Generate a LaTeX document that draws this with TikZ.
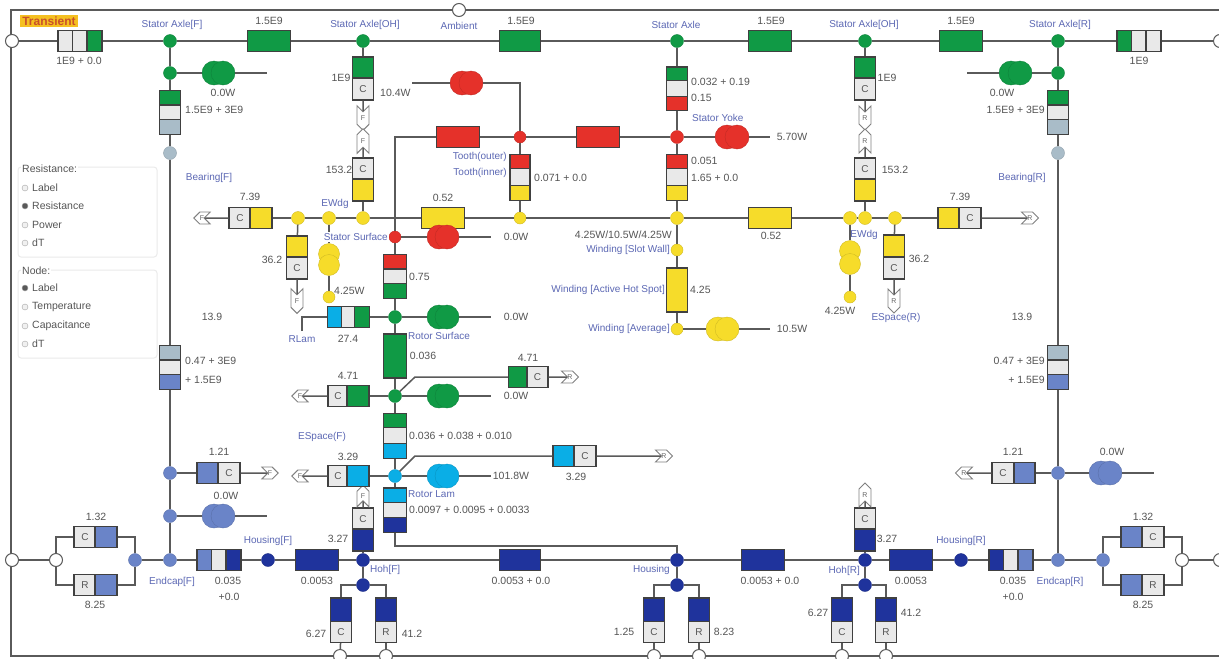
\documentclass[tikz,border=0pt]{standalone}
\usepackage{fontspec}
\setmainfont{Liberation Sans}
\usetikzlibrary{shapes.symbols}
\definecolor{wirecol}{HTML}{5A5A5A}
\definecolor{gnd}{HTML}{109A45}
\definecolor{rdd}{HTML}{E5312A}
\definecolor{ylw}{HTML}{F6DC2A}
\definecolor{cyn}{HTML}{0AAEE6}
\definecolor{nvy}{HTML}{1F339C}
\definecolor{peri}{HTML}{6A84C8}
\definecolor{gry}{HTML}{A9BCC8}
\definecolor{pale}{HTML}{E9E9E9}
\definecolor{namecol}{HTML}{5C68B4}
\definecolor{numcol}{HTML}{555555}
\definecolor{titlebg}{HTML}{F5C020}
\definecolor{titlefg}{HTML}{C8502A}
\tikzset{
  wire/.style={draw=wirecol, line width=1.5pt},
  frameline/.style={draw=wirecol, line width=1.8pt},
  junc/.style={circle, draw=#1!85!black, fill=#1, inner sep=0pt, minimum size=13pt},
  term/.style={circle, draw=wirecol, fill=white, line width=1pt, inner sep=0pt, minimum size=13pt},
  cell/.style={rectangle, draw=black!75, line width=1.2pt, fill=#1, inner sep=0pt, font=\fontsize{10}{10}\selectfont, text=numcol},
  hc/.style={cell=#1, minimum height=21pt},
  vc/.style={cell=#1, minimum width=21pt},
  src/.style={circle, draw=#1!85!black, fill=#1, inner sep=0pt, minimum size=24pt},
  srcv/.style={circle, draw=#1!85!black, fill=#1, inner sep=0pt, minimum size=21pt},
  tag/.style={signal, draw=black!50, fill=white, line width=0.9pt, inner sep=0pt, text=black!60, font=\fontsize{7}{7}\selectfont},
  tagl/.style={tag, signal to=west, signal from=east, minimum width=16pt, minimum height=12pt},
  tagr/.style={tag, signal to=east, signal from=west, minimum width=16pt, minimum height=12pt},
  tagd/.style={tag, signal to=south, signal from=north, minimum width=12pt, minimum height=17pt},
  tagu/.style={tag, signal to=north, signal from=south, minimum width=12pt, minimum height=17pt},
  num/.style={text=numcol, inner sep=0pt, font=\fontsize{10.5}{12}\selectfont},
  nm/.style={text=namecol, inner sep=0pt, font=\fontsize{10}{12}\selectfont},
  panel/.style={draw=black!8, rounded corners=3pt, line width=1pt},
  radio/.style={circle, draw=black!35, fill=black!6, inner sep=0pt, minimum size=6pt},
  radioon/.style={circle, draw=black!35, fill=black!65, inner sep=0pt, minimum size=6pt},
}
\begin{document}
\begin{tikzpicture}[x=1pt, y=-1pt]
    \useasboundingbox (0,0) rectangle (1219,659);
    \fill[white] (0,0) rectangle (1219,659);
    \draw[frameline] (11,10) rectangle (1221,656);

    % Title
    \node[fill=titlebg, text=titlefg, inner sep=2pt, font=\bfseries\fontsize{12}{14}\selectfont] (title) at (49,21) {Transient};

    % Panels on the left
    \draw[panel] (18,167) rectangle (157,257);
    \draw[panel] (18,270) rectangle (157,358);
    \node[num, anchor=west, fill=white, inner sep=1pt] (resTitle) at (21,169) {Resistance:};
    \node[radio] (r1) at (25,188) {};
    \node[radioon] (r2) at (25,206) {};
    \node[radio] (r3) at (25,225) {};
    \node[radio] (r4) at (25,243) {};
    \node[num, anchor=west] at (32,188) {Label};
    \node[num, anchor=west] at (32,206) {Resistance};
    \node[num, anchor=west] at (32,225) {Power};
    \node[num, anchor=west] at (32,243) {dT};
    \node[num, anchor=west, fill=white, inner sep=1pt] (nodeTitle) at (21,271) {Node:};
    \node[radioon] (n1) at (25,288) {};
    \node[radio] (n2) at (25,307) {};
    \node[radio] (n3) at (25,326) {};
    \node[radio] (n4) at (25,344) {};
    \node[num, anchor=west] at (32,288) {Label};
    \node[num, anchor=west] at (32,307) {Temperature};
    \node[num, anchor=west] at (32,326) {Capacitance};
    \node[num, anchor=west] at (32,344) {dT};

    % Terminals on the frame
    \node[term] (tTL) at (12,41) {};
    \node[term] (tTR) at (1220,41) {};
    \node[term] (tBL) at (12,560) {};
    \node[term] (tBR) at (1220,560) {};
    \node[term] (tAmb) at (459,10) {};
    \node[term] (tB1) at (340,656) {};
    \node[term] (tB2) at (386,656) {};
    \node[term] (tB3) at (654,656) {};
    \node[term] (tB4) at (699,656) {};
    \node[term] (tB5) at (842,656) {};
    \node[term] (tB6) at (886,656) {};

    % Top row: stator axle
    \node[hc=pale, minimum width=15pt] (a1) at (65.5,41) {};
    \node[hc=pale, minimum width=15pt] (a2) at (80,41) {};
    \node[hc=gnd, minimum width=15pt] (a3) at (94.5,41) {};
    \node[junc=gnd] (saF) at (170,41) {};
    \node[hc=gnd, minimum width=43pt] (b1) at (269,41) {};
    \node[junc=gnd] (saOHf) at (363,41) {};
    \node[hc=gnd, minimum width=41pt] (b2) at (520,41) {};
    \node[junc=gnd] (sa) at (677,41) {};
    \node[hc=gnd, minimum width=43pt] (b3) at (770,41) {};
    \node[junc=gnd] (saOHr) at (865,41) {};
    \node[hc=gnd, minimum width=43pt] (b4) at (961,41) {};
    \node[junc=gnd] (saR) at (1058,41) {};
    \node[hc=gnd, minimum width=15pt] (c1) at (1124.5,41) {};
    \node[hc=pale, minimum width=15pt] (c2) at (1139,41) {};
    \node[hc=pale, minimum width=15pt] (c3) at (1153.5,41) {};

    % Front bearing column
    \node[junc=gnd] (jF) at (170,73) {};
    \node[src=gnd] (sF1) at (214,73) {};
    \node[src=gnd] (sF2) at (223,73) {};
    \coordinate (sFe) at (267,73);
    \node[vc=gnd, minimum height=15pt] (v1) at (170,98) {};
    \node[vc=pale, minimum height=15pt] (v2) at (170,112.5) {};
    \node[vc=gry, minimum height=15pt] (v3) at (170,127) {};
    \node[junc=gry] (brgF) at (170,153) {};
    \node[vc=gry, minimum height=15pt] (v4) at (170,353) {};
    \node[vc=pale, minimum height=15pt] (v5) at (170,367.5) {};
    \node[vc=peri, minimum height=15pt] (v6) at (170,382) {};
    \node[junc=peri] (jF2) at (170,473) {};
    \node[hc=peri, minimum width=22pt] (e1) at (208,473) {};
    \node[hc=pale, minimum width=22pt] (e2) at (229,473) {C};
    \node[tagr] (tgF1) at (270,473) {F};
    \node[junc=peri] (jF3) at (170,516) {};
    \node[src=peri] (sF3) at (214,516) {};
    \node[src=peri] (sF4) at (223,516) {};
    \coordinate (sF4e) at (267,516);

    % Front endcap
    \node[junc=peri] (ecF) at (170,560) {};
    \node[junc=peri] (ecF2) at (135,560) {};
    \node[term] (ecF3) at (56,560) {};
    \node[hc=pale, minimum width=22pt] (p1) at (85,537) {C};
    \node[hc=peri, minimum width=22pt] (p2) at (106,537) {};
    \node[hc=pale, minimum width=22pt] (p3) at (85,585) {R};
    \node[hc=peri, minimum width=22pt] (p4) at (106,585) {};
    \coordinate (p1a) at (56,537);
    \coordinate (p2a) at (135,537);
    \coordinate (p3a) at (56,585);
    \coordinate (p4a) at (135,585);
    \node[hc=peri, minimum width=15pt] (q1) at (204.5,560) {};
    \node[hc=pale, minimum width=15pt] (q2) at (219,560) {};
    \node[hc=nvy, minimum width=15pt] (q3) at (233.5,560) {};
    \node[junc=nvy] (hsF) at (268,560) {};

    % Housing row
    \node[hc=nvy, minimum width=43pt] (h1) at (317,560) {};
    \node[junc=nvy] (hohF) at (363,560) {};
    \node[hc=nvy, minimum width=41pt] (h2) at (520,560) {};
    \node[junc=nvy] (hs) at (677,560) {};
    \node[hc=nvy, minimum width=43pt] (h3) at (763,560) {};
    \node[junc=nvy] (hohR) at (865,560) {};
    \node[hc=nvy, minimum width=43pt] (h4) at (911,560) {};
    \node[junc=nvy] (hsR) at (961,560) {};
    \node[hc=nvy, minimum width=15pt] (q4) at (996.5,560) {};
    \node[hc=pale, minimum width=15pt] (q5) at (1011,560) {};
    \node[hc=peri, minimum width=15pt] (q6) at (1025.5,560) {};
    \node[junc=peri] (ecR) at (1058,560) {};
    \node[junc=peri] (ecR2) at (1103,560) {};
    \node[term] (ecR3) at (1182,560) {};
    \node[hc=peri, minimum width=22pt] (p5) at (1132,537) {};
    \node[hc=pale, minimum width=22pt] (p6) at (1153,537) {C};
    \node[hc=peri, minimum width=22pt] (p7) at (1132,585) {};
    \node[hc=pale, minimum width=22pt] (p8) at (1153,585) {R};
    \coordinate (p5a) at (1103,537);
    \coordinate (p6a) at (1182,537);
    \coordinate (p7a) at (1103,585);
    \coordinate (p8a) at (1182,585);

    % Feet of the housing row
    \node[vc=pale, minimum height=22pt] (f1) at (363,519) {C};
    \node[vc=nvy, minimum height=22pt] (f2) at (363,540) {};
    \node[tagu, minimum height=14pt] (tgF2) at (363,496) {F};
    \node[junc=nvy] (jH1) at (363,585) {};
    \coordinate (jH1l) at (341,585);
    \coordinate (jH1r) at (386,585);
    \node[vc=nvy, minimum height=24pt] (f3) at (341,610) {};
    \node[vc=pale, minimum height=21pt] (f4) at (341,632) {C};
    \node[vc=nvy, minimum height=24pt] (f5) at (386,610) {};
    \node[vc=pale, minimum height=21pt] (f6) at (386,632) {R};
    \node[junc=nvy] (jH2) at (677,585) {};
    \coordinate (jH2l) at (654,585);
    \coordinate (jH2r) at (699,585);
    \node[vc=nvy, minimum height=24pt] (f7) at (654,610) {};
    \node[vc=pale, minimum height=21pt] (f8) at (654,632) {C};
    \node[vc=nvy, minimum height=24pt] (f9) at (699,610) {};
    \node[vc=pale, minimum height=21pt] (f10) at (699,632) {R};
    \node[vc=pale, minimum height=22pt] (f11) at (865,519) {C};
    \node[vc=nvy, minimum height=22pt] (f12) at (865,540) {};
    \node[tagu] (tgR2) at (865,495) {R};
    \node[junc=nvy] (jH3) at (865,585) {};
    \coordinate (jH3l) at (842,585);
    \coordinate (jH3r) at (886,585);
    \node[vc=nvy, minimum height=24pt] (f13) at (842,610) {};
    \node[vc=pale, minimum height=21pt] (f14) at (842,632) {C};
    \node[vc=nvy, minimum height=24pt] (f15) at (886,610) {};
    \node[vc=pale, minimum height=21pt] (f16) at (886,632) {R};

    % Rear bearing column
    \node[junc=gnd] (jR) at (1058,73) {};
    \node[src=gnd] (sR1) at (1011,73) {};
    \node[src=gnd] (sR2) at (1020,73) {};
    \coordinate (sRe) at (967,73);
    \node[vc=gnd, minimum height=15pt] (w1) at (1058,98) {};
    \node[vc=pale, minimum height=15pt] (w2) at (1058,112.5) {};
    \node[vc=gry, minimum height=15pt] (w3) at (1058,127) {};
    \node[junc=gry] (brgR) at (1058,153) {};
    \node[vc=gry, minimum height=15pt] (w4) at (1058,353) {};
    \node[vc=pale, minimum height=15pt] (w5) at (1058,367.5) {};
    \node[vc=peri, minimum height=15pt] (w6) at (1058,382) {};
    \node[junc=peri] (jR2) at (1058,473) {};
    \node[hc=peri, minimum width=22pt] (e3) at (1024,473) {};
    \node[hc=pale, minimum width=22pt] (e4) at (1003,473) {C};
    \node[tagl] (tgR1) at (964,473) {R};
    \node[src=peri] (sR3) at (1101,473) {};
    \node[src=peri] (sR4) at (1110,473) {};
    \coordinate (sR4e) at (1154,473);

    % Stator overhang, front
    \node[vc=gnd, minimum height=22pt] (o1) at (363,68) {};
    \node[vc=pale, minimum height=22pt] (o2) at (363,89) {C};
    \node[tagd] (tgO1) at (363,118) {F};
    \node[tagu] (tgO2) at (363,141) {F};
    \node[vc=pale, minimum height=22pt] (o3) at (363,169) {C};
    \node[vc=ylw, minimum height=22pt] (o4) at (363,190) {};

    % Stator overhang, rear
    \node[vc=gnd, minimum height=22pt] (o5) at (865,68) {};
    \node[vc=pale, minimum height=22pt] (o6) at (865,89) {C};
    \node[tagd] (tgO3) at (865,118) {R};
    \node[tagu] (tgO4) at (865,141) {R};
    \node[vc=pale, minimum height=22pt] (o7) at (865,169) {C};
    \node[vc=ylw, minimum height=22pt] (o8) at (865,190) {};

    % Winding row
    \node[tagl] (tgW1) at (202,218) {F};
    \node[hc=pale, minimum width=22pt] (y1) at (240,218) {C};
    \node[hc=ylw, minimum width=22pt] (y2) at (261,218) {};
    \node[junc=ylw] (jY1) at (298,218) {};
    \node[junc=ylw] (ewF) at (329,218) {};
    \node[junc=ylw] (jY2) at (363,218) {};
    \node[hc=ylw, minimum width=43pt] (y3) at (443,218) {};
    \node[junc=ylw, minimum size=12pt] (jTi) at (520,218) {};
    \node[junc=ylw] (jW) at (677,218) {};
    \node[hc=ylw, minimum width=43pt] (y4) at (770,218) {};
    \node[junc=ylw] (ewR) at (850,218) {};
    \node[junc=ylw] (jY3) at (865,218) {};
    \node[junc=ylw] (jY4) at (895,218) {};
    \node[hc=ylw, minimum width=22pt] (y5) at (949,218) {};
    \node[hc=pale, minimum width=22pt] (y6) at (970,218) {C};
    \node[tagr] (tgW2) at (1030,218) {R};

    % Hanging from the winding row
    \node[vc=ylw, minimum height=22pt] (d1) at (297,247) {};
    \node[vc=pale, minimum height=22pt] (d2) at (297,268) {C};
    \node[tagd] (tgD1) at (297,301) {F};
    \node[srcv=ylw] (sY1) at (329,254) {};
    \node[srcv=ylw] (sY2) at (329,265) {};
    \node[junc=ylw, minimum size=12pt] (pY1) at (329,297) {};
    \node[srcv=ylw] (sY3) at (850,251) {};
    \node[srcv=ylw] (sY4) at (850,264) {};
    \node[junc=ylw, minimum size=12pt] (pY2) at (850,297) {};
    \node[vc=ylw, minimum height=22pt] (d3) at (894,246) {};
    \node[vc=pale, minimum height=22pt] (d4) at (894,268) {C};
    \node[tagd] (tgD2) at (894,301) {R};

    % Stator yoke and tooth
    \node[hc=rdd, minimum width=43pt] (t1) at (458,137) {};
    \node[junc=rdd, minimum size=12pt] (jTo) at (520,137) {};
    \node[hc=rdd, minimum width=43pt] (t2) at (598,137) {};
    \node[junc=rdd] (jYk) at (677,137) {};
    \node[src=rdd] (sYk1) at (727,137) {};
    \node[src=rdd] (sYk2) at (737,137) {};
    \coordinate (sYke) at (770,137);
    \node[src=rdd] (sTo1) at (462,83) {};
    \node[src=rdd] (sTo2) at (471,83) {};
    \coordinate (sToe) at (412,83);
    \coordinate (sToc) at (520,83);
    \node[vc=gnd, minimum height=15pt] (k1) at (677,74.5) {};
    \node[vc=pale, minimum height=17pt] (k2) at (677,89) {};
    \node[vc=rdd, minimum height=14pt] (k3) at (677,103.5) {};
    \node[vc=rdd, minimum height=15pt] (k4) at (677,162) {};
    \node[vc=pale, minimum height=18pt] (k5) at (677,177.5) {};
    \node[vc=ylw, minimum height=15pt] (k6) at (677,193) {};
    \node[cell=rdd, minimum width=20pt, minimum height=15pt] (k7) at (520,162) {};
    \node[cell=pale, minimum width=20pt, minimum height=18pt] (k8) at (520,177.5) {};
    \node[cell=ylw, minimum width=20pt, minimum height=15pt] (k9) at (520,193) {};

    % Winding column
    \node[junc=ylw, minimum size=12pt] (jSl) at (677,250) {};
    \node[vc=ylw, minimum height=44pt] (wh) at (677,290) {};
    \node[junc=ylw, minimum size=12pt] (jAv) at (677,329) {};
    \node[src=ylw] (sAv1) at (718,329) {};
    \node[src=ylw] (sAv2) at (727,329) {};
    \coordinate (sAve) at (770,329);

    % Stator surface down to the rotor
    \node[junc=rdd, minimum size=12pt] (jSS) at (395,237) {};
    \coordinate (jSSc) at (395,137);
    \node[src=rdd] (sSS1) at (439,237) {};
    \node[src=rdd] (sSS2) at (447,237) {};
    \coordinate (sSSe) at (491,237);
    \node[cell=rdd, minimum width=23pt, minimum height=15pt] (g1) at (395,262) {};
    \node[cell=pale, minimum width=23pt, minimum height=15pt] (g2) at (395,276.5) {};
    \node[cell=gnd, minimum width=23pt, minimum height=15pt] (g3) at (395,291) {};

    % Rotor surface
    \node[junc=gnd] (jRS) at (395,317) {};
    \node[hc=cyn, minimum width=14.5pt] (g4) at (335,317) {};
    \node[hc=pale, minimum width=14.5pt] (g5) at (348.5,317) {};
    \node[hc=gnd, minimum width=14.5pt] (g6) at (362,317) {};
    \coordinate (g4a) at (302,317);
    \coordinate (g4b) at (302,331);
    \node[src=gnd] (sRS1) at (439,317) {};
    \node[src=gnd] (sRS2) at (447,317) {};
    \coordinate (sRSe) at (491,317);
    \node[cell=gnd, minimum width=23pt, minimum height=44pt] (g7) at (395,356) {};

    % Rotor
    \node[junc=gnd] (jRo) at (395,396) {};
    \node[hc=pale, minimum width=20pt] (g8) at (338,396) {C};
    \node[hc=gnd, minimum width=22pt] (g9) at (358,396) {};
    \node[tagl] (tgA1) at (300,396) {F};
    \node[src=gnd] (sRo1) at (439,396) {};
    \node[src=gnd] (sRo2) at (447,396) {};
    \coordinate (sRoe) at (491,396);
    \coordinate (jRoa) at (415,377);
    \node[hc=gnd, minimum width=19pt] (g10) at (518,377) {};
    \node[hc=pale, minimum width=21pt] (g11) at (537.5,377) {C};
    \node[tagr] (tgA2) at (570,377) {R};
    \node[cell=gnd, minimum width=23pt, minimum height=15pt] (g12) at (395,421) {};
    \node[cell=pale, minimum width=23pt, minimum height=17pt] (g13) at (395,436) {};
    \node[cell=cyn, minimum width=23pt, minimum height=15pt] (g14) at (395,451) {};

    % Rotor lamination
    \node[junc=cyn] (jLa) at (395,476) {};
    \node[hc=pale, minimum width=20pt] (g15) at (338,476) {C};
    \node[hc=cyn, minimum width=22pt] (g16) at (358,476) {};
    \node[tagl] (tgB1) at (300,476) {F};
    \node[src=cyn] (sLa1) at (439,476) {};
    \node[src=cyn] (sLa2) at (447,476) {};
    \coordinate (sLae) at (491,476);
    \coordinate (jLaa) at (415,456);
    \node[hc=cyn, minimum width=22pt] (g17) at (564,456) {};
    \node[hc=pale, minimum width=22pt] (g18) at (585,456) {C};
    \node[tagr] (tgB2) at (664,456) {R};
    \node[cell=cyn, minimum width=23pt, minimum height=15pt] (g19) at (395,495.5) {};
    \node[cell=pale, minimum width=23pt, minimum height=16pt] (g20) at (395,510.5) {};
    \node[cell=nvy, minimum width=23pt, minimum height=15pt] (g21) at (395,525) {};
    \coordinate (g21a) at (395,546);

    % Connectors
    \draw[wire] (tTL) -- (a1);
    \draw[wire] (a3) -- (saF) -- (b1) -- (saOHf) -- (b2) -- (sa) -- (b3) -- (saOHr) -- (b4) -- (saR) -- (c1);
    \draw[wire] (c3) -- (tTR);
    \draw[wire] (saF) -- (jF) -- (v1);
    \draw[wire] (jF) -- (sF1);
    \draw[wire] (sF2) -- (sFe);
    \draw[wire] (v3) -- (brgF) -- (v4);
    \draw[wire] (v6) -- (jF2) -- (jF3) -- (ecF);
    \draw[wire] (jF2) -- (e1);
    \draw[wire] (e2) -- (tgF1);
    \draw[wire] (jF3) -- (sF3);
    \draw[wire] (sF4) -- (sF4e);
    \draw[wire] (tBL) -- (ecF3);
    \draw[wire] (ecF3) -- (p1a) -- (p1);
    \draw[wire] (ecF3) -- (p3a) -- (p3);
    \draw[wire] (p2) -- (p2a) -- (ecF2);
    \draw[wire] (p4) -- (p4a) -- (ecF2);
    \draw[wire] (ecF2) -- (ecF) -- (q1);
    \draw[wire] (q3) -- (hsF) -- (h1) -- (hohF) -- (h2) -- (hs) -- (h3) -- (hohR) -- (h4) -- (hsR) -- (q4);
    \draw[wire] (q6) -- (ecR) -- (ecR2);
    \draw[wire] (ecR3) -- (tBR);
    \draw[wire] (ecR2) -- (p5a) -- (p5);
    \draw[wire] (ecR2) -- (p7a) -- (p7);
    \draw[wire] (p6) -- (p6a) -- (ecR3);
    \draw[wire] (p8) -- (p8a) -- (ecR3);
    \draw[wire] (tgF2) -- (f1);
    \draw[wire] (f2) -- (hohF) -- (jH1);
    \draw[wire] (jH1) -- (jH1l) -- (f3);
    \draw[wire] (jH1) -- (jH1r) -- (f5);
    \draw[wire] (f4) -- (tB1);
    \draw[wire] (f6) -- (tB2);
    \draw[wire] (hs) -- (jH2);
    \draw[wire] (jH2) -- (jH2l) -- (f7);
    \draw[wire] (jH2) -- (jH2r) -- (f9);
    \draw[wire] (f8) -- (tB3);
    \draw[wire] (f10) -- (tB4);
    \draw[wire] (tgR2) -- (f11);
    \draw[wire] (f12) -- (hohR) -- (jH3);
    \draw[wire] (jH3) -- (jH3l) -- (f13);
    \draw[wire] (jH3) -- (jH3r) -- (f15);
    \draw[wire] (f14) -- (tB5);
    \draw[wire] (f16) -- (tB6);
    \draw[wire] (saR) -- (jR) -- (w1);
    \draw[wire] (sR1) -- (sRe);
    \draw[wire] (jR) -- (sR2);
    \draw[wire] (w3) -- (brgR) -- (w4);
    \draw[wire] (w6) -- (jR2) -- (ecR);
    \draw[wire] (jR2) -- (e3);
    \draw[wire] (e4) -- (tgR1);
    \draw[wire] (jR2) -- (sR3);
    \draw[wire] (sR4) -- (sR4e);
    \draw[wire] (saOHf) -- (o1);
    \draw[wire] (o2) -- (tgO1);
    \draw[wire] (tgO2) -- (o3);
    \draw[wire] (o4) -- (jY2);
    \draw[wire] (saOHr) -- (o5);
    \draw[wire] (o6) -- (tgO3);
    \draw[wire] (tgO4) -- (o7);
    \draw[wire] (o8) -- (jY3);
    \draw[wire] (tgW1) -- (y1);
    \draw[wire] (y2) -- (jY1) -- (ewF) -- (jY2) -- (y3) -- (jTi) -- (jW) -- (y4) -- (ewR) -- (jY3) -- (jY4) -- (y5);
    \draw[wire] (y6) -- (tgW2);
    \draw[wire] (jY1) -- (d1);
    \draw[wire] (d2) -- (tgD1);
    \draw[wire] (ewF) -- (sY1);
    \draw[wire] (sY2) -- (pY1);
    \draw[wire] (ewR) -- (sY3);
    \draw[wire] (sY4) -- (pY2);
    \draw[wire] (jY4) -- (d3);
    \draw[wire] (d4) -- (tgD2);
    \draw[wire] (jSS) -- (jSSc) -- (t1) -- (jTo) -- (t2) -- (jYk) -- (sYk1);
    \draw[wire] (sYk2) -- (sYke);
    \draw[wire] (sToe) -- (sTo1);
    \draw[wire] (sTo2) -- (sToc) -- (jTo);
    \draw[wire] (jTo) -- (k7);
    \draw[wire] (k9) -- (jTi);
    \draw[wire] (sa) -- (k1);
    \draw[wire] (k3) -- (jYk) -- (k4);
    \draw[wire] (k6) -- (jW) -- (jSl) -- (wh) -- (jAv) -- (sAv1);
    \draw[wire] (sAv2) -- (sAve);
    \draw[wire] (jSS) -- (sSS1);
    \draw[wire] (sSS2) -- (sSSe);
    \draw[wire] (jSS) -- (g1);
    \draw[wire] (g3) -- (jRS) -- (g7) -- (jRo) -- (g12);
    \draw[wire] (jRS) -- (g6);
    \draw[wire] (g4b) -- (g4a) -- (g4);
    \draw[wire] (jRS) -- (sRS1);
    \draw[wire] (sRS2) -- (sRSe);
    \draw[wire] (jRo) -- (g9);
    \draw[wire] (g8) -- (tgA1);
    \draw[wire] (jRo) -- (sRo1);
    \draw[wire] (sRo2) -- (sRoe);
    \draw[wire] (jRo) -- (jRoa) -- (g10);
    \draw[wire] (g11) -- (tgA2);
    \draw[wire] (g14) -- (jLa) -- (g19);
    \draw[wire] (jLa) -- (g16);
    \draw[wire] (g15) -- (tgB1);
    \draw[wire] (jLa) -- (sLa1);
    \draw[wire] (sLa2) -- (sLae);
    \draw[wire] (jLa) -- (jLaa) -- (g17);
    \draw[wire] (g18) -- (tgB2);
    \draw[wire] (g21) -- (g21a) -| (hs);

    % Names
    \node[nm] at (172,25) {Stator Axle[F]};
    \node[nm] at (365,25) {Stator Axle[OH]};
    \node[nm] at (459,26) {Ambient};
    \node[nm] at (676,25) {Stator Axle};
    \node[nm] at (864,25) {Stator Axle[OH]};
    \node[nm] at (1060,25) {Stator Axle[R]};
    \node[nm] at (209,178) {Bearing[F]};
    \node[nm] at (1022,178) {Bearing[R]};
    \node[nm] at (335,204) {EWdg};
    \node[nm] at (864,235) {EWdg};
    \node[nm, anchor=east, fill=white, inner sep=1pt] (lblSS) at (389,237) {Stator Surface};
    \node[nm, anchor=west] at (692,118) {Stator Yoke};
    \node[nm, anchor=east] at (507,157) {Tooth(outer)};
    \node[nm, anchor=east] at (507,173) {Tooth(inner)};
    \node[nm, anchor=east] at (670,250) {Winding [Slot Wall]};
    \node[nm, anchor=east] at (665,290) {Winding [Active Hot Spot]};
    \node[nm, anchor=east] at (670,329) {Winding [Average]};
    \node[nm] at (302,339) {RLam};
    \node[nm, anchor=west] at (408,336) {Rotor Surface};
    \node[nm] at (322,437) {ESpace(F)};
    \node[nm] at (896,318) {ESpace(R)};
    \node[nm, anchor=west] at (408,494) {Rotor Lam};
    \node[nm] at (172,582) {Endcap[F]};
    \node[nm] at (1060,582) {Endcap[R]};
    \node[nm] at (268,541) {Housing[F]};
    \node[nm] at (961,541) {Housing[R]};
    \node[nm, anchor=west] at (370,570) {Hoh[F]};
    \node[nm, anchor=east] at (860,571) {Hoh[R]};
    \node[nm, anchor=east] at (670,570) {Housing};

    % Values
    \node[num] at (79,61) {1E9 + 0.0};
    \node[num] at (269,21) {1.5E9};
    \node[num] at (521,21) {1.5E9};
    \node[num] at (771,21) {1.5E9};
    \node[num] at (961,21) {1.5E9};
    \node[num] at (1139,61) {1E9};
    \node[num] at (223,93) {0.0W};
    \node[num, anchor=west] at (185,110) {1.5E9 + 3E9};
    \node[num, anchor=west] at (185,361) {0.47 + 3E9};
    \node[num, anchor=west] at (185,380) {+ 1.5E9};
    \node[num] at (212,317) {13.9};
    \node[num] at (219,452) {1.21};
    \node[num] at (226,496) {0.0W};
    \node[num] at (96,517) {1.32};
    \node[num] at (95,605) {8.25};
    \node[num] at (228,581) {0.035};
    \node[num] at (229,597) {+0.0};
    \node[num] at (317,581) {0.0053};
    \node[num] at (911,581) {0.0053};
    \node[num] at (338,539) {3.27};
    \node[num] at (316,634) {6.27};
    \node[num] at (412,634) {41.2};
    \node[num] at (521,581) {0.0053 + 0.0};
    \node[num] at (770,581) {0.0053 + 0.0};
    \node[num] at (624,632) {1.25};
    \node[num] at (724,632) {8.23};
    \node[num] at (341,78) {1E9};
    \node[num, anchor=west] at (380,93) {10.4W};
    \node[num] at (339,170) {153.2};
    \node[num] at (250,197) {7.39};
    \node[num] at (443,198) {0.52};
    \node[num] at (771,236) {0.52};
    \node[num] at (960,197) {7.39};
    \node[num] at (272,260) {36.2};
    \node[num, anchor=west] at (334,291) {4.25W};
    \node[num] at (840,311) {4.25W};
    \node[num] at (919,259) {36.2};
    \node[num] at (887,78) {1E9};
    \node[num] at (895,170) {153.2};
    \node[num] at (887,539) {3.27};
    \node[num] at (818,613) {6.27};
    \node[num] at (911,613) {41.2};
    \node[num] at (1002,93) {0.0W};
    \node[num, anchor=east] at (1045,110) {1.5E9 + 3E9};
    \node[num] at (1022,317) {13.9};
    \node[num, anchor=east] at (1045,361) {0.47 + 3E9};
    \node[num, anchor=east] at (1045,380) {+ 1.5E9};
    \node[num] at (1013,452) {1.21};
    \node[num] at (1112,452) {0.0W};
    \node[num] at (1013,581) {0.035};
    \node[num] at (1013,597) {+0.0};
    \node[num] at (1143,517) {1.32};
    \node[num] at (1143,605) {8.25};
    \node[num, anchor=west] at (691,82) {0.032 + 0.19};
    \node[num, anchor=west] at (691,98) {0.15};
    \node[num, anchor=west] at (691,161) {0.051};
    \node[num, anchor=west] at (691,178) {1.65 + 0.0};
    \node[num, anchor=west] at (534,178) {0.071 + 0.0};
    \node[num, anchor=east] at (672,235) {4.25W/10.5W/4.25W};
    \node[num, anchor=west] at (690,290) {4.25};
    \node[num] at (792,137) {5.70W};
    \node[num] at (792,329) {10.5W};
    \node[num] at (516,237) {0.0W};
    \node[num] at (516,317) {0.0W};
    \node[num] at (516,396) {0.0W};
    \node[num, anchor=west] at (409,277) {0.75};
    \node[num] at (348,339) {27.4};
    \node[num] at (423,356) {0.036};
    \node[num] at (348,376) {4.71};
    \node[num] at (528,358) {4.71};
    \node[num, anchor=west] at (409,436) {0.036 + 0.038 + 0.010};
    \node[num] at (348,457) {3.29};
    \node[num] at (511,476) {101.8W};
    \node[num] at (576,477) {3.29};
    \node[num, anchor=west] at (409,510) {0.0097 + 0.0095 + 0.0033};
\end{tikzpicture}
\end{document}
